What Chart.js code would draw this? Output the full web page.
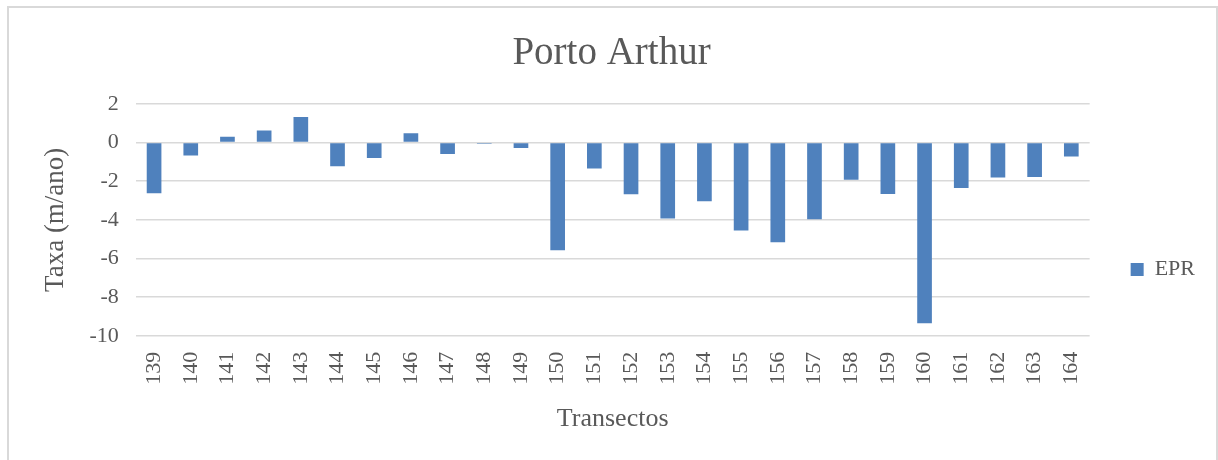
<!DOCTYPE html>
<html>
<head>
<meta charset="utf-8">
<script src="https://cdn.jsdelivr.net/npm/chart.js@4"></script>
<style>
    html, body { margin: 0; padding: 0; background: #fff; overflow: hidden; }
    #wrap { position: absolute; left: 0; top: 0; width: 1218px; height: 460px; }
    #frame {
        position: absolute; left: 7px; top: 6px; width: 1207px; height: 470px;
        border: 2px solid #d9d9d9; pointer-events: none;
    }
</style>
</head>
<body>
<div id="wrap"><canvas id="chart"></canvas></div>
<div id="frame"></div>
<script>
const transectos = ["139", "140", "141", "142", "143", "144", "145", "146", "147", "148", "149", "150", "151",
                    "152", "153", "154", "155", "156", "157", "158", "159", "160", "161", "162", "163", "164"];
const epr = [-2.63, -0.68, 0.29, 0.62, 1.32, -1.23, -0.80, 0.48, -0.60, -0.07, -0.29, -5.57, -1.35,
             -2.68, -3.93, -3.04, -4.55, -5.16, -3.97, -1.93, -2.67, -9.35, -2.36, -1.81, -1.79, -0.72];
const yTicks = [2, 0, -2, -4, -6, -8, -10];

const textColor = "#595959";
const serif = "'Liberation Serif', 'Times New Roman', serif";

Chart.defaults.font.family = serif;
Chart.defaults.color = textColor;

// Excel puts the legend lower and the title a bit more to the left than Chart.js does
const nudgeBoxes = {
    id: "nudgeBoxes",
    afterLayout(chart) {
        const lg = chart.legend;
        if (lg) {
            lg.top += 35;
            lg.bottom += 35;
        }
        const tb = chart.titleBlock;
        if (tb) {
            tb.left -= 11;
            tb.right -= 11;
        }
    }
};

const ctx = document.getElementById("chart").getContext("2d");
new Chart(ctx, {
    type: "bar",
    data: {
        labels: transectos,
        datasets: [
            {
                label: "EPR",
                data: epr,
                backgroundColor: "#4f81bd",
                borderWidth: 0,
                barPercentage: 0.4,
                categoryPercentage: 1.0
            }
        ]
    },
    options: {
        responsive: true,
        maintainAspectRatio: false,
        animation: false,
        layout: {
            padding: { left: 40, right: 13, top: 30, bottom: 21 }
        },
        plugins: {
            title: {
                display: true,
                text: "Porto Arthur",
                color: textColor,
                font: { size: 39, weight: "normal" },
                padding: { top: 0, bottom: 27 }
            },
            legend: {
                position: "right",
                labels: {
                    boxWidth: 13,
                    boxHeight: 13,
                    padding: 41,
                    color: textColor,
                    font: { size: 22 }
                }
            },
            tooltip: { enabled: false }
        },
        scales: {
            x: {
                grid: { display: false, drawTicks: false },
                border: { display: false },
                ticks: {
                    minRotation: 90,
                    maxRotation: 90,
                    padding: 16,
                    autoSkip: false,
                    color: textColor,
                    font: { size: 22 }
                },
                title: {
                    display: true,
                    text: "Transectos",
                    color: textColor,
                    font: { size: 26 },
                    padding: { top: 3, bottom: 4 }
                }
            },
            y: {
                min: Math.min(...yTicks),
                max: Math.max(...yTicks),
                afterBuildTicks: function(axis) {
                    axis.ticks = yTicks.map(v => ({ value: v }));
                },
                grid: { color: "#d9d9d9", lineWidth: 1.5, drawTicks: false },
                border: { display: false },
                ticks: {
                    padding: 17,
                    color: textColor,
                    font: { size: 22 }
                },
                title: {
                    display: true,
                    text: "Taxa (m/ano)",
                    color: textColor,
                    font: { size: 27 },
                    padding: { top: 0, bottom: 0 }
                }
            }
        }
    },
    plugins: [nudgeBoxes]
});
</script>
</body>
</html>
